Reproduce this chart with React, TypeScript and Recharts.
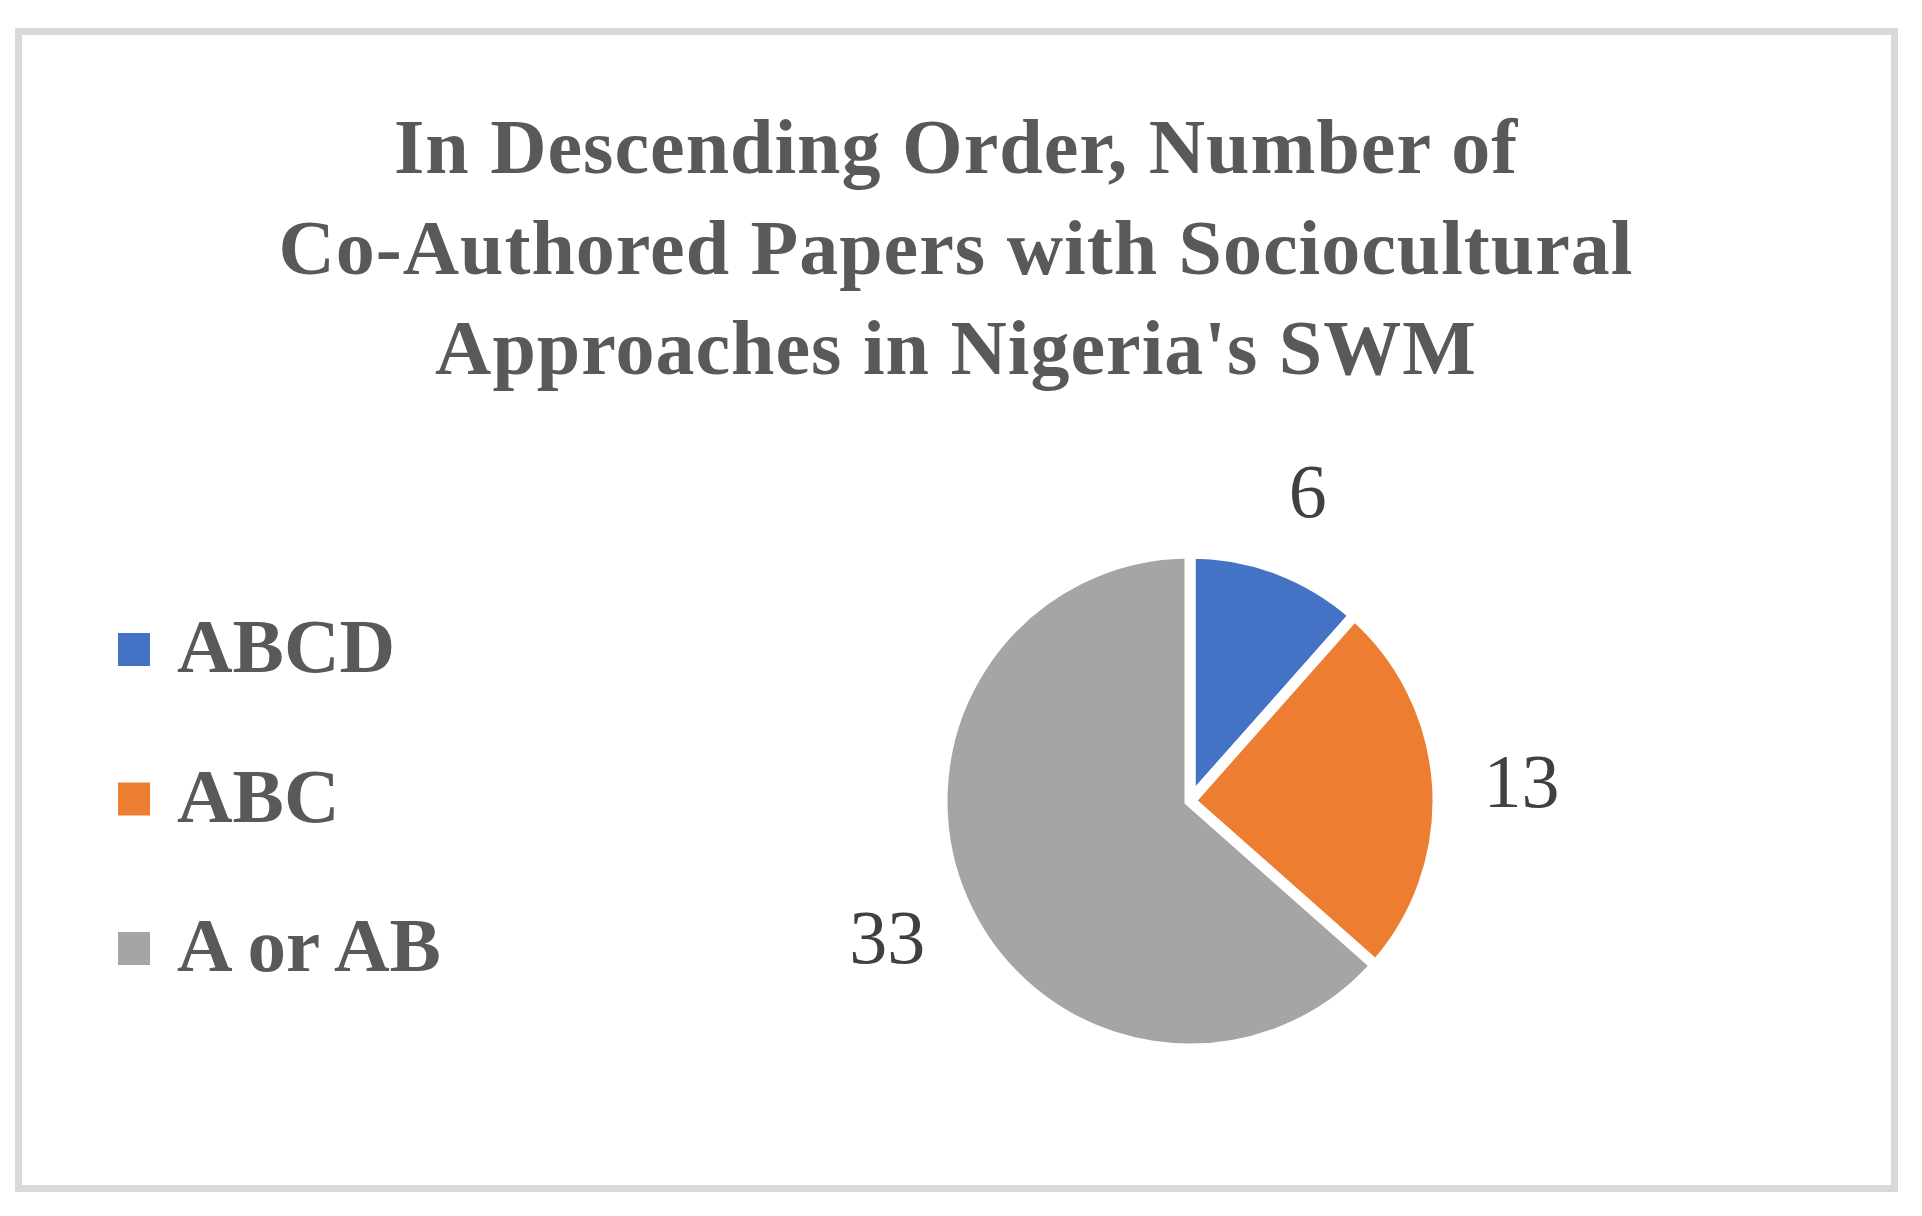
import { PieChart, Pie, Cell, Legend } from "recharts";

const categories = ["ABCD", "ABC", "A or AB"];
const paperCounts = [6, 13, 33];
const sliceColors = ["#4472c4", "#ed7d31", "#a5a5a5"];
const titleLines = [
  "In Descending Order, Number of",
  "Co-Authored Papers with Sociocultural",
  "Approaches in Nigeria's SWM",
];

const data = categories.map((name, i) => ({ name, value: paperCounts[i] }));

const W = 1922;
const H = 1216;
const SERIF = "'Liberation Serif', 'Times New Roman', serif";
const RADIAN = Math.PI / 180;

// value labels sit outside the slices, along the middle angle
function renderLabel(props: any) {
  const { cx, cy, midAngle, value } = props;
  const r = 332;
  const x = cx + r * Math.cos(-midAngle * RADIAN);
  const y = cy + r * Math.sin(-midAngle * RADIAN);
  return (
    <text
      x={x}
      y={y + 26}
      textAnchor="middle"
      fontFamily={SERIF}
      fontSize={76}
      fill="#404040"
    >
      {value}
    </text>
  );
}

function renderLegend(props: any) {
  // keep the legend in data order (ABCD first)
  const items = [...(props.payload || [])].sort(
    (a: any, b: any) => categories.indexOf(a.value) - categories.indexOf(b.value)
  );
  return (
    <svg width={420} height={480} style={{ display: "block" }}>
      {items.map((entry: any, i: number) => (
        <g key={entry.value}>
          <rect x={0} y={33 + i * 149.5} width={32} height={33} fill={entry.color} />
          <text
            x={59}
            y={72 + i * 149.5}
            fontFamily={SERIF}
            fontWeight="bold"
            fontSize={77}
            fill="#595959"
          >
            {entry.value}
          </text>
        </g>
      ))}
    </svg>
  );
}

export default function App() {
  return (
    <div
      style={{
        position: "absolute",
        left: 0,
        top: 0,
        width: W,
        height: H,
        background: "#fff",
      }}
    >
      <svg
        width={W}
        height={H}
        style={{ position: "absolute", left: 0, top: 0 }}
      >
        <rect
          x={18.5}
          y={31.5}
          width={1876}
          height={1157}
          fill="#fff"
          stroke="#d9d9d9"
          strokeWidth={7}
        />
        {titleLines.map((line, i) => (
          <text
            key={line}
            x={956}
            y={173 + i * 100.5}
            textAnchor="middle"
            fontFamily={SERIF}
            fontWeight="bold"
            fontSize={78}
            letterSpacing={1}
            fill="#595959"
          >
            {line}
          </text>
        ))}
      </svg>
      <div style={{ position: "absolute", left: 0, top: 0 }}>
        <PieChart
          width={W}
          height={H}
          margin={{ top: 0, right: 0, bottom: 0, left: 0 }}
        >
          <Legend
            layout="horizontal"
            align="center"
            verticalAlign="middle"
            content={renderLegend}
            wrapperStyle={{ left: 118, top: 600, width: 420 }}
          />
          <Pie
            data={data}
            dataKey="value"
            nameKey="name"
            cx={1190}
            cy={801}
            outerRadius={248}
            startAngle={90}
            endAngle={-270}
            stroke="#ffffff"
            strokeWidth={11}
            label={renderLabel}
            labelLine={false}
            isAnimationActive={false}
          >
            {data.map((d, i) => (
              <Cell key={d.name} fill={sliceColors[i]} />
            ))}
          </Pie>
        </PieChart>
      </div>
    </div>
  );
}
